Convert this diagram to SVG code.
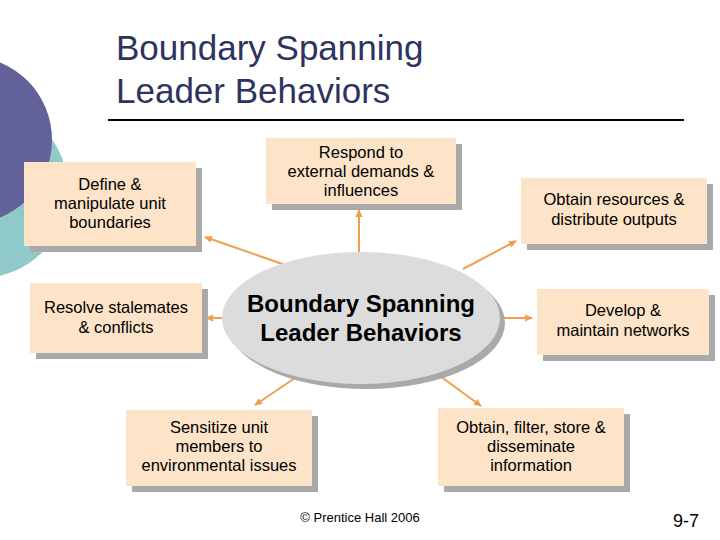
<svg xmlns="http://www.w3.org/2000/svg" width="720" height="540" viewBox="0 0 720 540">
<style>
.box{fill:#fde3c8}
.sh{fill:#a9a9a9}
.t{font-family:"Liberation Sans",Arial,sans-serif;font-size:16.5px;fill:#000;text-anchor:middle}
.c{stroke:#ef9f4f;stroke-width:2;fill:none;marker-end:url(#ah)}
</style>
<defs><marker id="ah" markerWidth="8" markerHeight="8" refX="7" refY="4" orient="auto" markerUnits="userSpaceOnUse"><path d="M0,0.5 L8,4 L0,7.5z" fill="#ef9f4f"/></marker></defs>
<rect width="720" height="540" fill="#fff"/>
<circle cx="-20" cy="190" r="88" fill="#8fc9c9"/>
<circle cx="-32" cy="140" r="84" fill="#636199"/>
<text x="116" y="60" font-family="Liberation Sans,Arial,sans-serif" font-size="35" fill="#2e3360">Boundary Spanning</text>
<text x="116" y="103" font-family="Liberation Sans,Arial,sans-serif" font-size="35" fill="#2e3360">Leader Behaviors</text>
<line x1="108" y1="120" x2="684" y2="120" stroke="#000" stroke-width="2"/>
<g id="connectors">
<line class="c" x1="294" y1="268" x2="205" y2="237"/>
<line class="c" x1="243" y1="318" x2="206" y2="318"/>
<line class="c" x1="359" y1="257" x2="359" y2="210"/>
<line class="c" x1="463" y1="269" x2="516" y2="241"/>
<line class="c" x1="500" y1="318" x2="532" y2="318"/>
<line class="c" x1="295" y1="378" x2="255" y2="405"/>
<line class="c" x1="440" y1="376" x2="481" y2="406"/>
</g>
<g id="center">
<ellipse cx="366" cy="323" rx="139" ry="66" fill="#a9a9a9"/>
<ellipse cx="361" cy="318" rx="139" ry="66" fill="#dcdcdc"/>
<text class="t" x="361" y="312" style="font-size:24px;font-weight:bold">Boundary Spanning</text>
<text class="t" x="361" y="341" style="font-size:24px;font-weight:bold">Leader Behaviors</text>
</g>
<g id="define"><rect class="sh" x="30" y="168" width="172" height="84"/><rect class="box" x="24" y="162" width="172" height="84"/>
<text class="t" x="110" y="190">Define &amp;</text><text class="t" x="110" y="209">manipulate unit</text><text class="t" x="110" y="228">boundaries</text></g>
<g id="respond"><rect class="sh" x="272" y="144" width="190" height="66"/><rect class="box" x="266" y="138" width="190" height="66"/>
<text class="t" x="361" y="158">Respond to</text><text class="t" x="361" y="177">external demands &amp;</text><text class="t" x="361" y="196">influences</text></g>
<g id="obtainres"><rect class="sh" x="527" y="184" width="186" height="66"/><rect class="box" x="521" y="178" width="186" height="66"/>
<text class="t" x="614" y="205">Obtain resources &amp;</text><text class="t" x="614" y="225">distribute outputs</text></g>
<g id="resolve"><rect class="sh" x="36" y="289" width="172" height="70"/><rect class="box" x="30" y="283" width="172" height="70"/>
<text class="t" x="116" y="313">Resolve stalemates</text><text class="t" x="116" y="333">&amp; conflicts</text></g>
<g id="develop"><rect class="sh" x="543" y="295" width="172" height="66"/><rect class="box" x="537" y="289" width="172" height="66"/>
<text class="t" x="623" y="316">Develop &amp;</text><text class="t" x="623" y="336">maintain networks</text></g>
<g id="sensitize"><rect class="sh" x="132" y="416" width="186" height="76"/><rect class="box" x="126" y="410" width="186" height="76"/>
<text class="t" x="219" y="433">Sensitize unit</text><text class="t" x="219" y="452">members to</text><text class="t" x="219" y="471">environmental issues</text></g>
<g id="obtainfilter"><rect class="sh" x="444" y="414" width="186" height="78"/><rect class="box" x="438" y="408" width="186" height="78"/>
<text class="t" x="531" y="433">Obtain, filter, store &amp;</text><text class="t" x="531" y="452">disseminate</text><text class="t" x="531" y="471">information</text></g>
<text class="t" x="360" y="522" style="font-size:13px">© Prentice Hall 2006</text>
<text class="t" x="686" y="527" style="font-size:18px">9-7</text>
</svg>
